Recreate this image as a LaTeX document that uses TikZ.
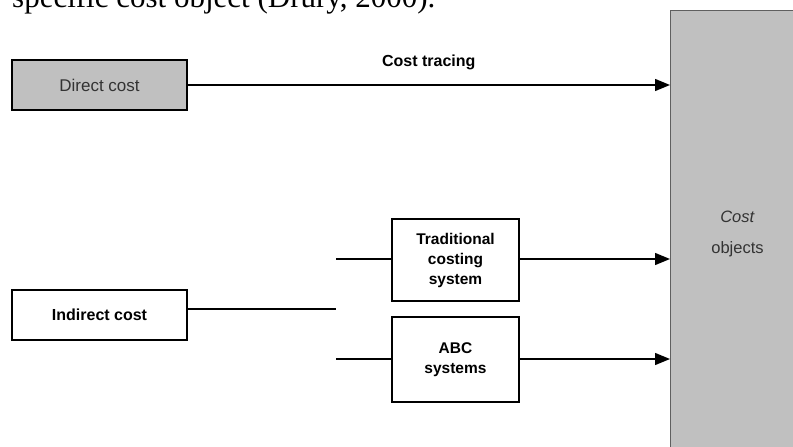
\documentclass[tikz,border=0pt]{standalone}
\usepackage{fontspec}
\setmainfont{Liberation Sans}
\newfontfamily\textefont{Liberation Serif}
\usetikzlibrary{arrows.meta}
\definecolor{gris}{RGB}{192,192,192}
\definecolor{bordgris}{RGB}{95,95,95}
\begin{document}
\begin{tikzpicture}[x=1pt,y=-1pt,
	boite/.style={draw, line width=1.3pt, inner sep=0pt, align=center},
	fleche/.style={line width=1.4pt, -{Triangle[length=15pt,width=12pt]}},
	trait/.style={line width=1.4pt}]
	\useasboundingbox (0,0) rectangle (793,447);
	\clip (0,0) rectangle (793,447);
	% la ligne de texte coupee en haut
	\node[anchor=base west, inner sep=0pt, font=\textefont\fontsize{31}{36}\selectfont] (phrase) at (12,8) {specific cost object (Drury, 2000).};
	% les boites
	\node[boite, fill=gris, minimum width=175pt, minimum height=50pt, text=black!80, font=\fontsize{17}{20}\selectfont] (direct) at (99.5,85) {Direct cost};
	\node[boite, minimum width=175pt, minimum height=50pt, font=\bfseries\fontsize{16}{19}\selectfont] (indirect) at (99.5,315) {Indirect cost};
	\node[boite, minimum width=127pt, minimum height=82pt, font=\bfseries\fontsize{15.5}{20}\selectfont] (trad) at (455.5,260) {Traditional\\costing\\system};
	\node[boite, minimum width=127pt, minimum height=85pt, font=\bfseries\fontsize{15.5}{20}\selectfont] (abc) at (455.5,359.5) {ABC\\systems};
	\node[draw=bordgris, fill=gris, line width=1pt, anchor=north west, minimum width=134pt, minimum height=446pt, inner sep=0pt, align=center, text=black!80, font=\fontsize{16.5}{31}\selectfont] (objets) at (670,10) {\textit{Cost}\\objects};
	% les fleches
	\draw[fleche] (direct.east) -- (direct.east -| objets.west) node[midway, above=14pt, inner sep=0pt, text=black, font=\bfseries\fontsize{16}{19}\selectfont] (trace) {Cost tracing};
	\coordinate (bout) at (336,309);
	\coordinate (haut) at (336,259);
	\coordinate (bas) at (336,359);
	\draw[trait] (indirect.east |- bout) -- (bout);
	\draw[trait] (haut) -- (trad.west |- haut);
	\draw[trait] (bas) -- (abc.west |- bas);
	\draw[fleche] (trad.east |- haut) -- (objets.west |- haut);
	\draw[fleche] (abc.east |- bas) -- (objets.west |- bas);
\end{tikzpicture}
\end{document}
